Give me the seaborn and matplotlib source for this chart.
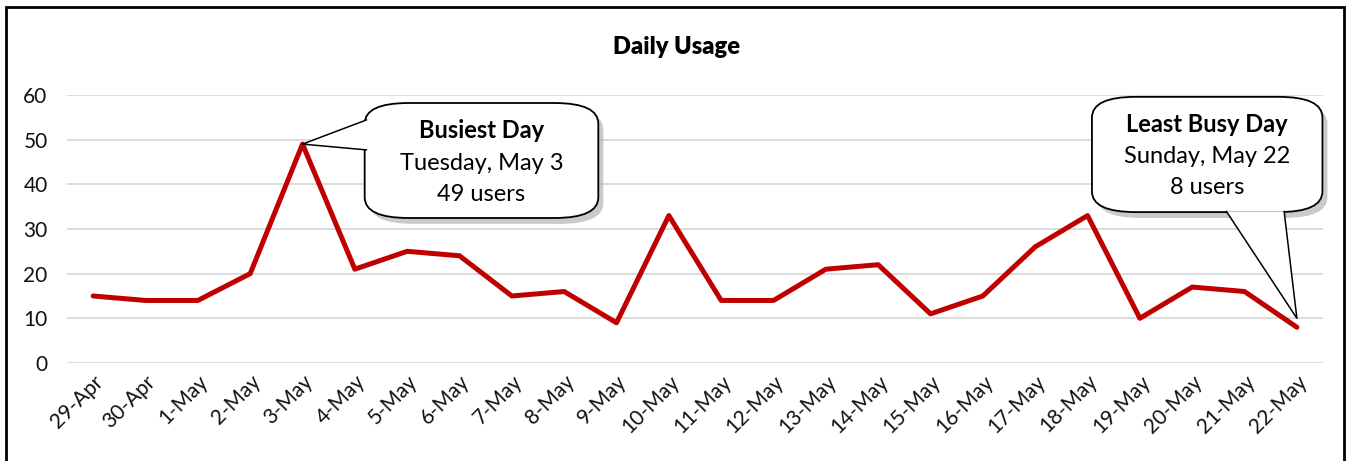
import numpy as np
import pandas as pd
import matplotlib.pyplot as plt
import seaborn as sns
from matplotlib.patches import FancyBboxPatch, Polygon, Rectangle

days = ["29-Apr", "30-Apr", "1-May", "2-May", "3-May", "4-May", "5-May", "6-May",
        "7-May", "8-May", "9-May", "10-May", "11-May", "12-May", "13-May", "14-May",
        "15-May", "16-May", "17-May", "18-May", "19-May", "20-May", "21-May", "22-May"]
users = [15, 14, 14, 20, 49, 21, 25, 24, 15, 16, 9, 33, 14, 14, 21, 22,
         11, 15, 26, 33, 10, 17, 16, 8]
y_ticks = [0, 10, 20, 30, 40, 50, 60]

busiest_text = ["Busiest Day", "Tuesday, May 3", "49 users"]
least_text = ["Least Busy Day", "Sunday, May 22", "8 users"]

sns.set_theme(style="white")
plt.rcParams["font.family"] = ["Lato", "DejaVu Sans"]

df = pd.DataFrame({"pos": np.arange(len(days)), "users": users})

fig = plt.figure(figsize=(13.48, 4.61), dpi=100)
ax = fig.add_axes([0.0497, 0.2126, 0.9318, 0.5814])

for t in y_ticks:
    ax.axhline(t, color="#d9d9d9", lw=1.3, zorder=0)
sns.lineplot(data=df, x="pos", y="users", color="#c00000", lw=3.6, ax=ax, zorder=3)

ax.set_xlim(-0.5, len(days) - 0.5)
ax.set_ylim(0, 60)
ax.set_xticks(df["pos"])
ax.set_xticklabels(days, rotation=45, ha="right", rotation_mode="anchor", fontsize=15)
ax.set_yticks(y_ticks)
ax.set_yticklabels([str(t) for t in y_ticks], fontsize=15)
ax.tick_params(axis="both", length=0, colors="#111111")
ax.tick_params(axis="y", pad=14)
ax.tick_params(axis="x", pad=6)
ax.set_xlabel("")
ax.set_ylabel("")
sns.despine(ax=ax, left=True, bottom=True)

fig.text(0.502, 0.898, "Daily Usage", ha="center", va="center",
         fontsize=17, fontweight="heavy", color="black")


def callout(box, base, tip_data, lines):
    x0, y0, x1, y1 = box
    ax_tr = ax.transAxes
    tip = ax_tr.inverted().transform(ax.transData.transform(tip_data))
    shadow = FancyBboxPatch((x0 + 0.004, y0 - 0.022), x1 - x0, y1 - y0,
                            boxstyle="round,pad=0,rounding_size=0.035",
                            mutation_aspect=2.2, transform=ax_tr,
                            fc="#a0a0a0", ec="none", alpha=0.55,
                            clip_on=False, zorder=5)
    ax.add_patch(shadow)
    rect = FancyBboxPatch((x0, y0), x1 - x0, y1 - y0,
                          boxstyle="round,pad=0,rounding_size=0.035",
                          mutation_aspect=2.2, transform=ax_tr,
                          fc="white", ec="black", lw=1.3,
                          clip_on=False, zorder=6)
    ax.add_patch(rect)
    (bx0, by0), (bx1, by1) = base
    wedge = Polygon([(bx0, by0), tip, (bx1, by1)], closed=True, transform=ax_tr,
                    fc="white", ec="none", clip_on=False, zorder=7)
    ax.add_patch(wedge)
    ax.plot([bx0, tip[0], bx1], [by0, tip[1], by1], transform=ax_tr,
            color="black", lw=1.1, clip_on=False, zorder=8)
    cx = (x0 + x1) / 2
    ys = [y1 - 0.104, y1 - 0.224, y1 - 0.340]
    for i, (txt, yy) in enumerate(zip(lines, ys)):
        ax.text(cx, yy, txt, transform=ax_tr, ha="center", va="center",
                fontsize=17, fontweight="bold" if i == 0 else "normal",
                color="black", zorder=9)


top_i = int(np.argmax(users))
low_i = int(np.argmin(users))
callout((0.237, 0.541, 0.423, 0.970),
        [(0.2385, 0.907), (0.2385, 0.795)],
        (top_i, users[top_i]), busiest_text)
callout((0.816, 0.563, 0.9995, 0.993),
        [(0.923, 0.566), (0.969, 0.566)],
        (low_i, users[low_i] + 2), least_text)

fig.patches.append(Rectangle((0.0045, -0.05), 0.9925, 1.035, transform=fig.transFigure,
                             fill=False, ec="black", lw=2, zorder=10))

fig.savefig("out.png", dpi=100)
